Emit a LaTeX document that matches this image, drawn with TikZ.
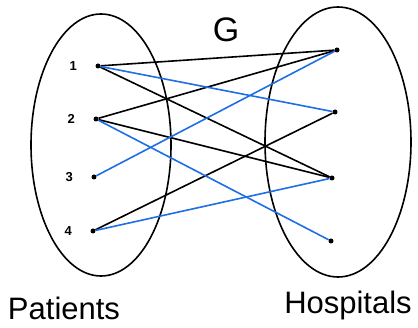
\documentclass[tikz,border=0pt]{standalone}
\usepackage{fontspec}
\setsansfont{Liberation Sans}
\usepackage{xcolor}
\usepackage{tikz}
\usetikzlibrary{positioning,shapes,calc}

\definecolor{edgeblue}{RGB}{30,110,230}

\begin{document}
\begin{tikzpicture}[x=1pt,y=-1pt,
    vtx/.style={circle, fill=black, inner sep=0pt, minimum size=5pt},
    lbl/.style={font=\sffamily\bfseries\fontsize{13}{14}\selectfont},
    big/.style={font=\sffamily\fontsize{31}{33}\selectfont, anchor=base},
    edge/.style={line width=1.6pt, black},
    match/.style={line width=1.6pt, edgeblue}]
    \useasboundingbox (0,0) rectangle (418,328);

    % the two sides
    \draw[line width=1.6pt] (101,145) ellipse (70 and 131);
    \draw[line width=1.6pt] (338,142) ellipse (73 and 135);
    \node[font=\sffamily\fontsize{34}{36}\selectfont] (g) at (226,30) {G};

    % patients
    \node[vtx] (p1) at (98,66) {};
    \node[vtx] (p2) at (96,119) {};
    \node[vtx] (p3) at (94,177) {};
    \node[vtx] (p4) at (93,231) {};
    \foreach \i in {1,...,4}
        \node[lbl, left=15pt of p\i] (l\i) {\i};

    % hospitals
    \node[vtx] (h1) at (337,50) {};
    \node[vtx] (h2) at (335,112) {};
    \node[vtx] (h3) at (332,178) {};
    \node[vtx] (h4) at (331,241) {};

    % edges
    \foreach \a/\b in {p1/h1, p1/h3, p2/h1, p2/h3, p4/h2}
        \draw[edge] (\a) -- (\b);
    \foreach \a/\b in {p1/h2, p2/h4, p3/h1, p4/h3}
        \draw[match] (\a) -- (\b);

    \node[big] (pat) at (64,320) {Patients};
    \node[big] (hos) at (348,314) {Hospitals};
\end{tikzpicture}
\end{document}
